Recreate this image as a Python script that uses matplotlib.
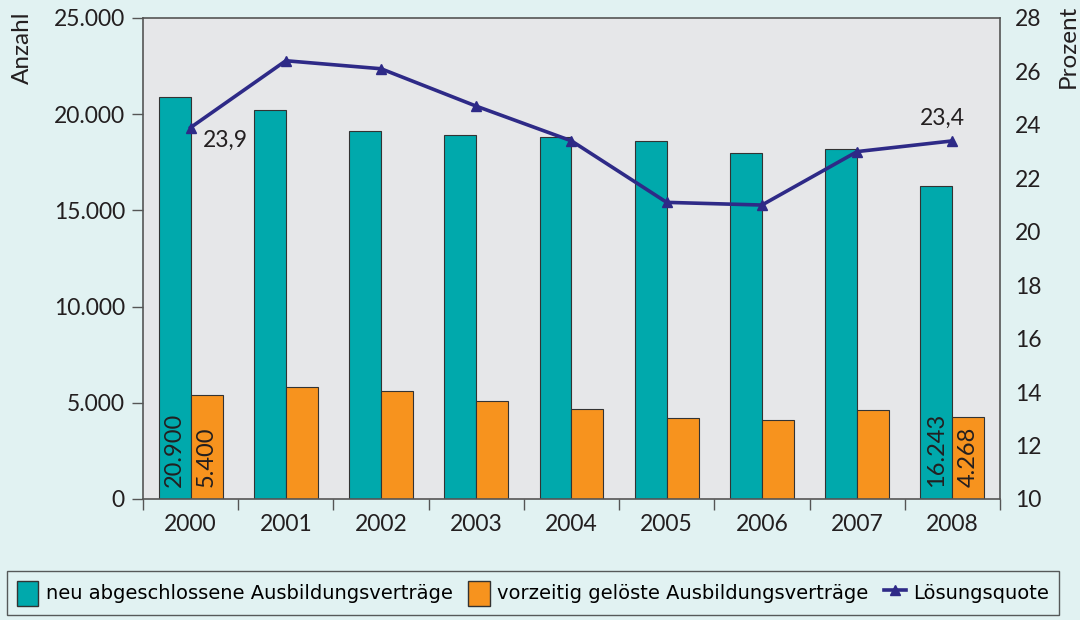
import matplotlib
matplotlib.use("Agg")
import matplotlib.pyplot as plt
import numpy as np
from matplotlib.patches import Patch
from matplotlib.lines import Line2D

# data
years = ["2000", "2001", "2002", "2003", "2004", "2005", "2006", "2007", "2008"]
neu = [20900, 20200, 19100, 18900, 18800, 18600, 18000, 18200, 16243]
geloest = [5400, 5800, 5600, 5100, 4700, 4200, 4100, 4600, 4268]
quote = [23.9, 26.4, 26.1, 24.7, 23.4, 21.1, 21.0, 23.0, 23.4]

TEAL = "#00a9ac"
ORANGE = "#f7931e"
NAVY = "#2e2a87"
BG = "#e1f2f2"
PLOT_BG = "#e6e7e9"
TXT = "#231f20"

plt.rcParams["font.family"] = ["Lato", "DejaVu Sans"]

fig = plt.figure(figsize=(10.8, 6.2), dpi=100, facecolor=BG)
ax = fig.add_axes([0.1324, 0.1952, 0.7935, 0.7758])
ax.set_facecolor(PLOT_BG)

x = np.arange(len(years))
w = 0.335
ax.bar(x - w / 2, neu, w, color=TEAL, edgecolor="#333333", linewidth=0.8, zorder=2)
ax.bar(x + w / 2, geloest, w, color=ORANGE, edgecolor="#333333", linewidth=0.8, zorder=2)

ax.set_xlim(-0.5, len(years) - 0.5)
ax.set_ylim(0, 25000)
ax.set_yticks([0, 5000, 10000, 15000, 20000, 25000])
ax.set_yticklabels(["0", "5.000", "10.000", "15.000", "20.000", "25.000"])
ax.set_xticks(x)
ax.set_xticklabels(years)
ax.set_xticks(np.arange(-0.5, len(years)), minor=True)
ax.tick_params(axis="x", which="major", length=0, pad=11, labelsize=16.5, colors=TXT)
ax.tick_params(axis="x", which="minor", length=8, width=1, color="#555555")
ax.tick_params(axis="y", length=8, width=1, color="#555555", labelsize=16.5,
               labelcolor=TXT, pad=5)
for s in ax.spines.values():
    s.set_color("#555555")
    s.set_linewidth(1.2)

# data labels inside first and last bars
for i in (0, len(years) - 1):
    ax.text(x[i] - w / 2, 600, f"{neu[i]:,}".replace(",", "."), rotation=90,
            ha="center", va="bottom", fontsize=17, color=TXT, zorder=3)
    ax.text(x[i] + w / 2, 600, f"{geloest[i]:,}".replace(",", "."), rotation=90,
            ha="center", va="bottom", fontsize=17, color=TXT, zorder=3)

ax2 = ax.twinx()
ax2.set_ylim(10, 28)
ax2.set_yticks(range(10, 29, 2))
ax2.tick_params(axis="y", length=0, labelsize=16.5, labelcolor=TXT, pad=11)
for s in ax2.spines.values():
    s.set_visible(False)
ax2.plot(x, quote, color=NAVY, linewidth=2.6, marker="^", markersize=7.5, zorder=4)

ax2.annotate("23,9", (x[0], quote[0]), xytext=(9, -9), textcoords="offset points",
             ha="left", va="center", fontsize=16.5, color=TXT)
ax2.annotate("23,4", (x[-1], quote[-1]), xytext=(-7, 16), textcoords="offset points",
             ha="center", va="center", fontsize=16.5, color=TXT)

fig.text(0.021, 0.982, "Anzahl", rotation=90, ha="center", va="top", fontsize=17.5, color=TXT)
fig.text(0.989, 0.992, "Prozent", rotation=90, ha="center", va="top", fontsize=17.5, color=TXT)

handles = [
    Patch(facecolor=TEAL, edgecolor="#333333", label="neu abgeschlossene Ausbildungsverträge"),
    Patch(facecolor=ORANGE, edgecolor="#333333", label="vorzeitig gelöste Ausbildungsverträge"),
    Line2D([0], [0], color=NAVY, linewidth=2.6, marker="^", markersize=7, label="Lösungsquote"),
]
leg = fig.legend(handles=handles, loc="center", bbox_to_anchor=(0.4935, 0.0435),
                 ncol=3, frameon=True, handlelength=1.1, handleheight=1.6,
                 handletextpad=0.4, columnspacing=0.8, borderpad=0.5,
                 prop={"family": ["Liberation Sans Narrow", "DejaVu Sans"], "size": 14})
leg.get_frame().set_facecolor(BG)
leg.get_frame().set_edgecolor("#333333")
leg.get_frame().set_boxstyle("square", pad=0)
leg.get_frame().set_linewidth(1)

fig.savefig("out.png", dpi=100, facecolor=BG)
